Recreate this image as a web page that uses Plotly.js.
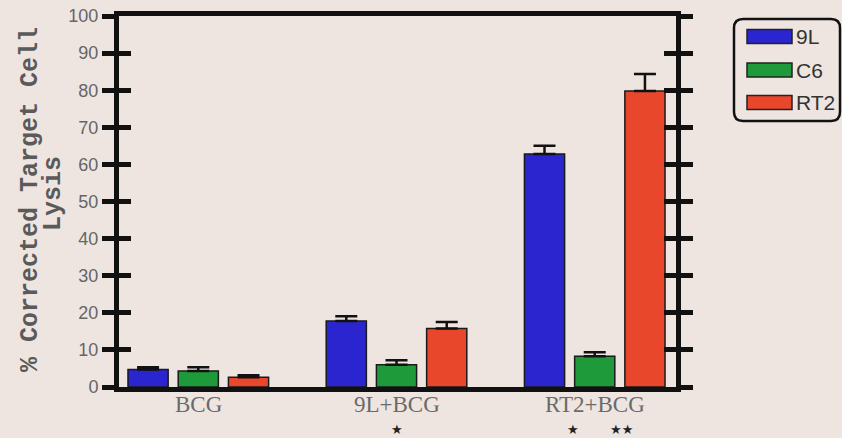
<!DOCTYPE html>
<html>
<head>
<meta charset="utf-8">
<script src="https://cdn.plot.ly/plotly-3.0.1.min.js"></script>
<style>html,body{margin:0;padding:0;background:#eee5e1;}#chart{width:842px;height:438px;}</style>
</head>
<body>
<div id="chart"></div>
<script>
// ---- data ----
const categories = ["BCG", "9L+BCG", "RT2+BCG"];
const seriesNames = ["9L", "C6", "RT2"];
const seriesColors = ["#2a25cf", "#1e9a3a", "#e8472c"];
const values9L  = [4.7, 17.8, 62.8];
const errors9L  = [0.6, 1.3, 2.2];
const valuesC6  = [4.3, 6.0, 8.3];
const errorsC6  = [1.0, 1.2, 1.1];
const valuesRT2 = [2.6, 15.8, 79.8];
const errorsRT2 = [0.6, 1.7, 4.6];
const yTickVals = [0, 10, 20, 30, 40, 50, 60, 70, 80, 90, 100];
const yTitleLines = ["% Corrected Target Cell", "Lysis"];
const significance = [
  {cat: "9L+BCG", shift: 0, text: "★"},
  {cat: "RT2+BCG", shift: -0.11, text: "★"},
  {cat: "RT2+BCG", shift: 0.135, text: "★★"}
];

// ---- layout helpers ----
const W = 842, H = 438;
const M = {l: 119, r: 166, t: 16, b: 51};
const pw = W - M.l - M.r, ph = H - M.t - M.b;
const px = x => (x - M.l) / pw;
const py = y => (H - M.b - y) / ph;

const allVals = [values9L, valuesC6, valuesRT2];
const allErrs = [errors9L, errorsC6, errorsRT2];

const traces = seriesNames.map((name, i) => ({
  type: "bar",
  name: name,
  x: categories,
  y: allVals[i],
  marker: {color: seriesColors[i], line: {color: "#1a1a1a", width: 1.5}},
  error_y: {type: "data", array: allErrs[i], arrayminus: allErrs[i].map(() => 0),
            symmetric: false, color: "#111", thickness: 2.5, width: 11},
  showlegend: false,
  hoverinfo: "skip"
}));
// helper trace so the overlay axis (inside ticks) is drawn
traces.push({type: "scatter", x: [categories[0]], y: [null], yaxis: "y2", showlegend: false, hoverinfo: "skip", mode: "markers"});

const shapes = [];
const annotations = [];

// legend box (rounded)
const bx0 = px(734), bx1 = px(840), by0 = py(19), by1 = py(121);
const rx = 9 / pw, ry = 9 / ph;
shapes.push({
  type: "path", xref: "paper", yref: "paper",
  path: `M${bx0+rx},${by0} L${bx1-rx},${by0} Q${bx1},${by0} ${bx1},${by0-ry} L${bx1},${by1+ry} Q${bx1},${by1} ${bx1-rx},${by1} L${bx0+rx},${by1} Q${bx0},${by1} ${bx0},${by1+ry} L${bx0},${by0-ry} Q${bx0},${by0} ${bx0+rx},${by0} Z`,
  line: {color: "#111", width: 2.5}, fillcolor: "rgba(0,0,0,0)"
});
const legendRows = [36.5, 70, 102.5];
seriesNames.forEach((name, i) => {
  const yc = legendRows[i];
  shapes.push({type: "rect", xref: "paper", yref: "paper",
    x0: px(747), x1: px(792), y0: py(yc - 7), y1: py(yc + 7),
    fillcolor: seriesColors[i], line: {color: "#222", width: 1.5}});
  annotations.push({xref: "paper", yref: "paper", x: px(794), y: py(yc),
    xanchor: "left", yanchor: "middle", showarrow: false, text: name,
    font: {family: "Liberation Sans, Arial, sans-serif", size: 21, color: "#333"}});
});

// y-axis title, two lines
annotations.push({xref: "paper", yref: "paper", x: px(30), y: py(200), textangle: -90,
  showarrow: false, text: yTitleLines[0], xanchor: "center", yanchor: "middle",
  font: {family: "Liberation Mono, Courier New, monospace", size: 25, color: "#5a5a5a", weight: "bold"}});
annotations.push({xref: "paper", yref: "paper", x: px(53), y: py(194), textangle: -90,
  showarrow: false, text: yTitleLines[1], xanchor: "center", yanchor: "middle",
  font: {family: "Liberation Mono, Courier New, monospace", size: 25, color: "#5a5a5a", weight: "bold"}});

// category labels
categories.forEach((c, i) => {
  annotations.push({xref: "x", yref: "paper", x: i, y: py(404),
    showarrow: false, text: c, xanchor: "center", yanchor: "middle",
    font: {family: "Liberation Serif, Times New Roman, serif", size: 23, color: "#6a6a6a"}});
});

// significance stars
significance.forEach(s => {
  annotations.push({xref: "x", yref: "paper", x: categories.indexOf(s.cat) + s.shift, y: py(430),
    showarrow: false, text: s.text, xanchor: "center", yanchor: "middle",
    font: {family: "DejaVu Sans, sans-serif", size: 13, color: "#222"}});
});

const layout = {
  width: W, height: H,
  margin: M,
  paper_bgcolor: "#eee5e1",
  plot_bgcolor: "#eee5e1",
  barmode: "group",
  bargap: 0.24,
  bargroupgap: 0.2,
  showlegend: false,
  xaxis: {
    type: "category",
    range: [-0.4, 2.41],
    showline: true, linecolor: "#111", linewidth: 5, mirror: true,
    ticks: "", showticklabels: false, showgrid: false, zeroline: false
  },
  yaxis: {
    range: [0, 100],
    tickvals: yTickVals,
    ticks: "outside", ticklen: 12, tickwidth: 5, tickcolor: "#111",
    showline: true, linecolor: "#111", linewidth: 5, mirror: "ticks",
    showgrid: false, zeroline: false,
    tickfont: {family: "Liberation Sans, Arial, sans-serif", size: 18, color: "#666"}
  },
  yaxis2: {
    range: [0, 100], overlaying: "y", side: "left", anchor: "x",
    tickvals: yTickVals,
    ticks: "inside", ticklen: 12, tickwidth: 5, tickcolor: "#111",
    showline: false, mirror: "ticks", showticklabels: false,
    showgrid: false, zeroline: false
  },
  shapes: shapes,
  annotations: annotations
};

Plotly.newPlot("chart", traces, layout, {displayModeBar: false, staticPlot: true});
</script>
</body>
</html>
